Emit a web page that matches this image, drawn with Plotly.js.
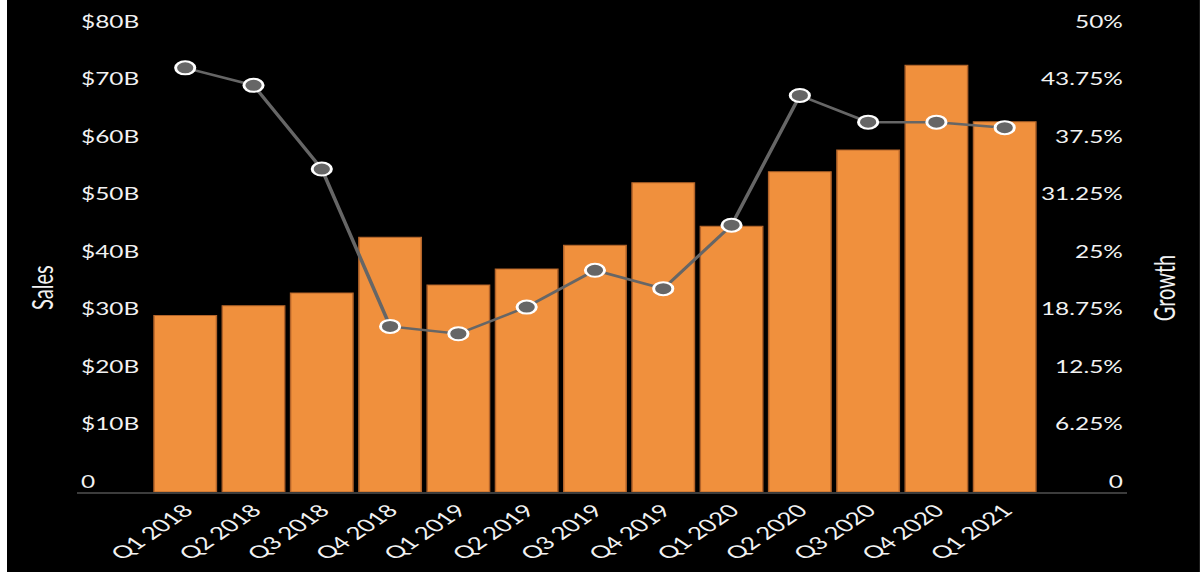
<!DOCTYPE html>
<html>
<head>
<meta charset="utf-8">
<script src="https://cdn.plot.ly/plotly-3.0.1.min.js"></script>
<style>
  html, body { margin: 0; padding: 0; background: #ffffff; overflow: hidden; }
  #chart {
    position: absolute; left: 7px; top: 0;
    width: 806px; height: 572px;
    transform: scaleX(1.48); transform-origin: 0 0;
  }
</style>
</head>
<body>
<div id="chart"></div>
<script>
const quarters = ['Q1 2018','Q2 2018','Q3 2018','Q4 2018','Q1 2019','Q2 2019','Q3 2019','Q4 2019','Q1 2020','Q2 2020','Q3 2020','Q4 2020','Q1 2021'];
const sales = [30.7, 32.4, 34.6, 44.3, 36.0, 38.8, 42.9, 53.8, 46.2, 55.7, 59.5, 74.2, 64.4];
const growth = [46.1, 44.2, 35.1, 18.0, 17.2, 20.1, 24.1, 22.1, 29.0, 43.1, 40.2, 40.2, 39.6];
const salesTickVals = [0, 10, 20, 30, 40, 50, 60, 70, 80];
const salesTickText = ['0', '$10B', '$20B', '$30B', '$40B', '$50B', '$60B', '$70B', '$80B'];
const growthTickVals = [0, 6.25, 12.5, 18.75, 25, 31.25, 37.5, 43.75, 50];
const growthTickText = ['0', '6.25%', '12.5%', '18.75%', '25%', '31.25%', '37.5%', '43.75%', '50%'];
const salesTitle = 'Sales';
const growthTitle = 'Growth';

const fontFam = 'Lato, "Open Sans", sans-serif';
const txt = '#f2f2f2';

const traces = [
  {
    type: 'bar', x: quarters, y: sales, name: 'Sales', yaxis: 'y',
    marker: { color: '#F0903D', line: { color: '#b3642a', width: 1 } }
  },
  {
    type: 'scatter', mode: 'lines+markers', x: quarters, y: growth, name: 'Growth', yaxis: 'y2',
    line: { color: '#666666', width: 2.5 },
    marker: { color: '#666666', size: 13, line: { color: '#ffffff', width: 2 } },
    cliponaxis: false
  }
];

const layout = {
  width: 806, height: 572,
  paper_bgcolor: '#000000', plot_bgcolor: '#000000',
  margin: { l: 47, r: 49, t: 10, b: 80 },
  showlegend: false,
  bargap: 0.086,
  font: { family: fontFam, color: txt, size: 16 },
  xaxis: {
    type: 'category',
    range: [-1.591, 13.796],
    tickangle: -45,
    tickfont: { family: fontFam, size: 17.5, color: txt },
    showgrid: false, zeroline: false,
    showline: true, linecolor: '#3c3c3c', linewidth: 1.5,
    ticks: ''
  },
  yaxis: {
    range: [0, 83.83],
    tickvals: salesTickVals, ticktext: salesTickText,
    ticklabelposition: 'inside', ticklabelshift: -10,
    tickfont: { family: fontFam, size: 16.5, color: txt },
    showgrid: false, zeroline: false, showline: false, ticks: ''
  },
  yaxis2: {
    overlaying: 'y', side: 'right',
    range: [0, 52.39],
    tickvals: growthTickVals, ticktext: growthTickText,
    ticklabelposition: 'inside', ticklabelshift: -10,
    tickfont: { family: fontFam, size: 16.5, color: txt },
    showgrid: false, zeroline: false, showline: false, ticks: ''
  },
  annotations: [
    { text: salesTitle, xref: 'paper', yref: 'paper', x: -0.0332, y: 0.4243,
      xanchor: 'center', yanchor: 'middle', textangle: -90, showarrow: false,
      font: { family: fontFam, size: 20, color: txt } },
    { text: growthTitle, xref: 'paper', yref: 'paper', x: 1.0349, y: 0.4243,
      xanchor: 'center', yanchor: 'middle', textangle: -90, showarrow: false,
      font: { family: fontFam, size: 20, color: txt } }
  ]
};

Plotly.newPlot('chart', traces, layout, { displayModeBar: false, staticPlot: true });
</script>
</body>
</html>
